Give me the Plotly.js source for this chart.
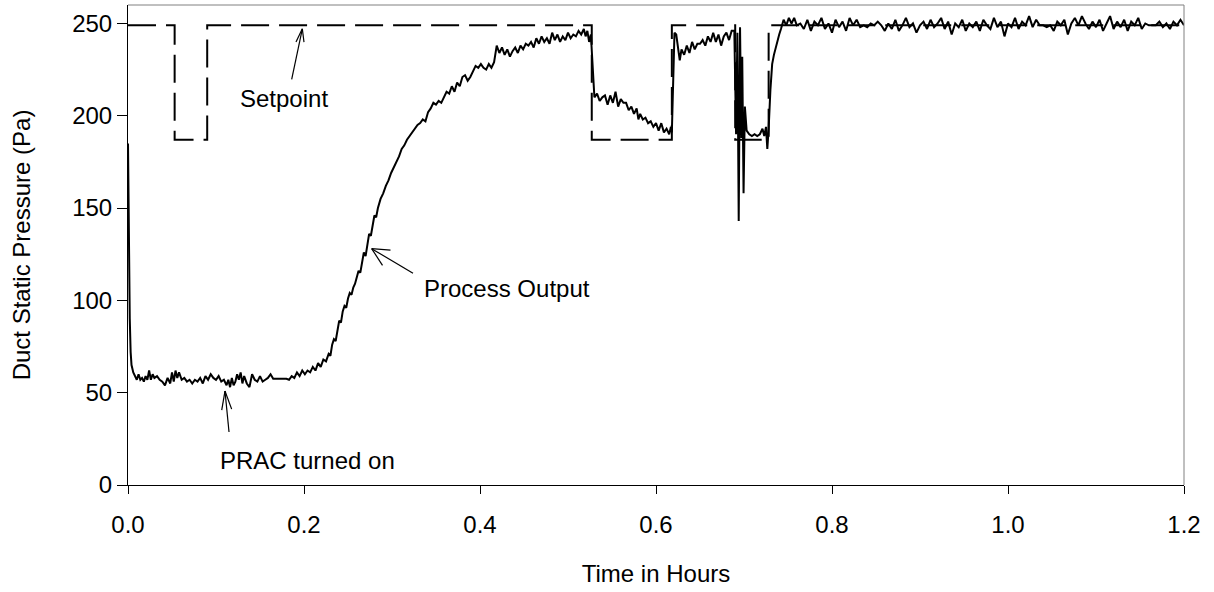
<!DOCTYPE html>
<html>
<head>
<meta charset="utf-8">
<script src="https://cdn.plot.ly/plotly-3.0.1.min.js"></script>
<style>
html,body{margin:0;padding:0;background:#fff;}
#chart{width:1214px;height:592px;}
</style>
</head>
<body>
<div id="chart"></div>
<script>
// ---- Data ----
const processTime = [
0.000,0.001,0.002,0.003,0.004,0.006,0.008,
0.010,0.012,0.014,0.016,0.018,0.020,0.022,0.024,0.026,0.028,0.030,0.033,0.036,0.039,0.042,0.045,0.048,0.050,0.052,0.054,0.056,0.058,0.061,0.064,0.067,0.070,0.073,0.076,0.079,0.082,0.085,0.088,0.091,0.094,0.097,0.100,0.103,0.106,0.109,0.112,0.114,0.116,0.118,0.120,0.122,0.124,0.126,0.128,0.130,0.132,0.135,0.138,0.141,0.144,0.147,0.150,0.153,0.156,0.159,0.162,0.165,0.180,0.183,0.186,0.189,0.192,0.195,0.198,
0.201,0.204,0.207,0.210,0.213,0.216,0.219,0.222,0.225,0.228,0.230,0.232,0.234,0.236,0.238,0.240,0.242,0.244,0.246,0.248,0.250,0.252,0.254,0.256,0.258,0.260,0.262,0.264,0.266,0.268,0.270,0.272,0.274,0.276,0.278,0.280,0.282,0.284,0.287,0.290,0.293,0.296,0.299,0.302,0.305,0.308,0.311,0.314,0.317,0.320,0.323,0.326,0.329,0.332,0.335,0.338,0.341,0.344,0.347,0.350,0.353,0.356,0.359,0.362,0.365,0.368,0.371,0.374,0.377,0.380,0.383,0.386,0.389,0.392,0.395,0.398,
0.401,0.404,0.407,0.410,0.413,0.416,0.419,0.422,0.425,0.428,0.431,0.434,0.437,0.440,0.443,0.446,0.449,0.452,0.455,0.458,0.461,0.464,0.467,0.470,0.473,0.476,0.479,0.482,0.485,0.488,0.491,0.494,0.497,0.500,0.503,0.506,0.509,0.512,0.515,0.518,0.520,0.522,0.524,0.526,0.527,0.528,0.529,0.530,0.533,0.536,0.539,0.542,0.545,0.548,0.551,0.554,0.557,0.560,0.563,0.566,0.569,0.572,0.575,0.578,0.580,0.582,0.585,0.588,0.591,0.594,0.597,
0.600,0.603,0.606,0.609,0.612,0.615,0.617,0.618,0.619,0.621,0.623,0.625,0.627,0.629,0.632,0.635,0.638,0.641,0.644,0.647,0.650,0.653,0.656,0.659,0.662,0.665,0.668,0.671,0.674,0.677,0.680,0.683,0.686,0.689,0.691,0.6925,0.694,0.6955,0.697,0.698,0.6995,0.701,0.703,0.706,0.709,0.712,0.715,0.718,0.721,0.723,0.725,0.7265,0.728,0.730,0.732,0.734,0.736,0.738,0.740,0.742,0.745,0.748,0.751,0.754,0.757,0.760,
0.764,0.768,0.772,0.776,0.780,0.784,0.788,0.792,0.796,0.800,0.804,0.808,0.812,0.816,0.820,0.824,0.828,0.832,0.836,0.840,0.844,0.848,0.852,0.856,0.860,0.864,0.868,0.872,0.876,0.880,0.884,0.888,0.892,0.896,0.900,0.904,0.908,0.912,0.916,0.920,0.924,0.928,0.932,0.936,0.940,0.944,0.948,0.952,0.956,0.960,0.964,0.968,0.972,0.976,0.980,0.984,0.988,0.992,0.996,
1.000,1.004,1.008,1.012,1.016,1.020,1.024,1.028,1.032,1.036,1.040,1.044,1.048,1.052,1.056,1.060,1.064,1.068,1.072,1.076,1.080,1.084,1.088,1.092,1.096,1.100,1.104,1.108,1.112,1.116,1.120,1.124,1.128,1.132,1.136,1.140,1.144,1.148,1.152,1.156,1.160,1.164,1.168,1.172,1.176,1.180,1.184,1.188,1.192,1.196,1.200
];
const processPressure = [
185,130,90,72,65,61,59,
57,60,57,58,56,59,57,62,57,60,58,59,57,56,54,58,55,61,56,62,58,61,57,58,56,57,55,57,56,58,55,59,57,60,58,57,59,56,57,54,57,53,58,54,56,60,57,61,55,59,55,53,60,57,56,59,56,57,58,60,57.5,57.5,57,59,58,61,59,62,
60,62,61,64,62,66,64,68,67,71,70,76,79,78,85,89,88,94,97,96,101,104,103,107,109,113,116,115,121,126,124,131,136,135,142,146,145,150,155,158,162,165,169,172,175,178,182,184,187,189,191,193,195,196,198,197,202,204,207,206,208,207,210,213,212,216,213,218,216,221,222,219,221,224,227,226,
228,226,225,228,226,229,238,234,237,233,236,232,235,237,234,238,236,239,238,240,237,242,239,243,240,242,239,245,241,244,240,243,241,245,242,244,243,246,244,247,243,246,240,244,236,225,214,210,212,208,210,211,206,211,207,213,205,209,207,207,203,205,201,204,198,201,198,199,196,197,194,
196,192,196,191,193,190,194,191,215,245,244,238,230,236,233,238,234,240,236,239,239,241,238,243,240,245,240,244,238,243,245,241,246,246,190,245,143,248,188,232,158,205,192,190,189,190,189,190,193,189,194,182,193,214,228,233,237,240,244,247,252,249,253,250,253,249,
250,247,252,246,251,249,253,247,250,245,252,248,251,246,253,249,252,248,249,248,250,249,251,249,246,250,247,252,246,249,253,248,250,245,249,251,247,252,248,250,253,247,251,244,250,248,252,246,250,248,251,246,252,249,247,253,248,251,243,
250,248,253,247,251,249,254,248,252,249,249,248,249,246,251,249,252,244,250,253,249,254,250,247,251,248,252,246,250,254,247,251,248,252,246,251,249,253,247,250,249,249,249,251,248,250,247,251,249,252,249
];
const setpointTime = [0, 0.053, 0.053, 0.090, 0.090, 0.527, 0.527, 0.618, 0.618, 0.690, 0.690, 0.728, 0.728, 1.2];
const setpointPressure = [249, 249, 187, 187, 249, 249, 187, 187, 249, 249, 187, 187, 249, 249];

const xTickVals = [0, 0.2, 0.4, 0.6, 0.8, 1.0, 1.2];
const xTickText = ['0.0', '0.2', '0.4', '0.6', '0.8', '1.0', '1.2'];
const yTickVals = [0, 50, 100, 150, 200, 250];
const yTickText = ['0', '50', '100', '150', '200', '250'];

// annotation labels
const labelText = ['Setpoint', 'Process Output', 'PRAC turned on'];
const labelX = [0.1778, 0.3340, 0.1025];
const labelY = [209.4, 106.6, 13.5];
const labelAnchor = ['center', 'left', 'left'];
// arrows: tail -> head, plus the two barbs of the open arrowhead
const arrowTailX = [0.1860, 0.3239, 0.1148];
const arrowTailY = [219.7, 114.7, 28.7];
const arrowHeadX = [0.1981, 0.2769, 0.1102];
const arrowHeadY = [247.1, 128.0, 50.9];
const barbAX = [0.1909, 0.2983, 0.1065];
const barbAY = [239.9, 127.2, 40.6];
const barbBX = [0.2000, 0.2892, 0.1178];
const barbBY = [239.9, 119.0, 41.1];

const FONT = 'Arial, "Liberation Sans", Helvetica, sans-serif';

const traces = [
  {x: setpointTime, y: setpointPressure, type: 'scatter', mode: 'lines', name: 'Setpoint',
   line: {color: '#000', width: 2, dash: '28px,10px'}, hoverinfo: 'skip'},
  {x: processTime, y: processPressure, type: 'scatter', mode: 'lines', name: 'Process Output',
   line: {color: '#000', width: 2}, hoverinfo: 'skip'}
];

const shapes = [
  {type: 'line', xref: 'paper', yref: 'paper', x0: 0, x1: 1, y0: 1, y1: 1, line: {color: '#808080', width: 1}},
  {type: 'line', xref: 'paper', yref: 'paper', x0: 1, x1: 1, y0: 0, y1: 1, line: {color: '#808080', width: 1}}
];
for (let i = 0; i < labelText.length; i++) {
  shapes.push({type: 'line', xref: 'x', yref: 'y', x0: arrowTailX[i], y0: arrowTailY[i], x1: arrowHeadX[i], y1: arrowHeadY[i], line: {color: '#000', width: 1.2}});
  shapes.push({type: 'line', xref: 'x', yref: 'y', x0: barbAX[i], y0: barbAY[i], x1: arrowHeadX[i], y1: arrowHeadY[i], line: {color: '#000', width: 1.2}});
  shapes.push({type: 'line', xref: 'x', yref: 'y', x0: barbBX[i], y0: barbBY[i], x1: arrowHeadX[i], y1: arrowHeadY[i], line: {color: '#000', width: 1.2}});
}

const annotations = labelText.map((t, i) => ({
  text: t, x: labelX[i], y: labelY[i], xref: 'x', yref: 'y', showarrow: false,
  xanchor: labelAnchor[i], yanchor: 'middle', font: {family: FONT, size: 24, color: '#000'}
}));

const layout = {
  width: 1214, height: 592,
  margin: {l: 128, r: 30, t: 5, b: 107, pad: 0},
  paper_bgcolor: '#fff', plot_bgcolor: '#fff',
  showlegend: false,
  font: {family: FONT, size: 24, color: '#000'},
  xaxis: {
    range: [0, 1.2], tickvals: xTickVals, ticktext: xTickText,
    showline: true, linecolor: '#000', linewidth: 1, mirror: false,
    ticks: 'outside', ticklen: 8, tickcolor: '#000', tickwidth: 1,
    showgrid: false, zeroline: false, ticklabelstandoff: 10,
    tickfont: {family: FONT, size: 24, color: '#000'},
    title: {text: 'Time in Hours', font: {family: FONT, size: 24, color: '#000'}, standoff: 28}
  },
  yaxis: {
    range: [0, 260], tickvals: yTickVals, ticktext: yTickText,
    showline: true, linecolor: '#000', linewidth: 1, mirror: false,
    ticks: 'outside', ticklen: 10, tickcolor: '#000', tickwidth: 1,
    showgrid: false, zeroline: false,
    tickfont: {family: FONT, size: 24, color: '#000'},
    title: {text: 'Duct Static Pressure (Pa)', font: {family: FONT, size: 24, color: '#000'}, standoff: 34}
  },
  shapes: shapes,
  annotations: annotations
};

Plotly.newPlot('chart', traces, layout, {displayModeBar: false, staticPlot: true});
</script>
</body>
</html>
